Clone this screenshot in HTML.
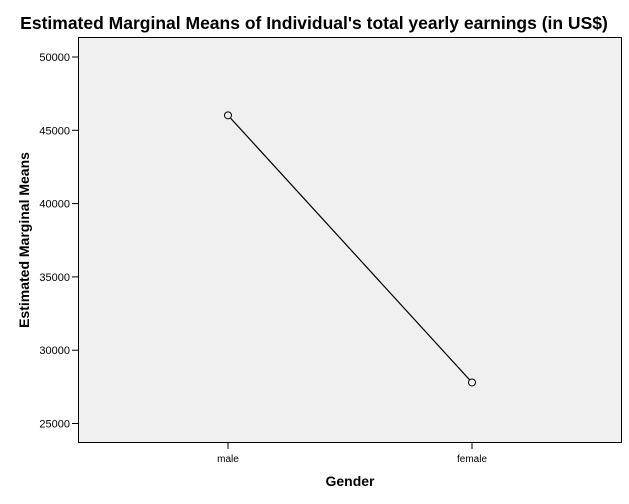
<!DOCTYPE html>
<html><head><meta charset="utf-8"><style>
body{margin:0;background:#fff;}
svg{display:block;font-family:"Liberation Sans",Arial,sans-serif;}
</style></head><body>
<svg id="chart" width="629" height="504">
<text x="314" y="29" font-size="17.5" font-weight="bold" text-anchor="middle">Estimated Marginal Means of Individual's total yearly earnings (in US$)</text>
<rect x="78.5" y="37.5" width="543" height="405" fill="#f0f0f0" stroke="#000" stroke-width="1"/>
<text transform="translate(29,240) rotate(-90)" font-size="14" font-weight="bold" text-anchor="middle">Estimated Marginal Means</text>
<text x="350" y="486" font-size="14" font-weight="bold" text-anchor="middle">Gender</text>
<g id="yaxis"></g><g id="xaxis"></g><g id="series"></g>
</svg>
<script>
const categories=["male","female"];
const meansValues=[46020,27800];
const yTicks=[25000,30000,35000,40000,45000,50000];
const ns="http://www.w3.org/2000/svg";
function y(v){return 423.5-(v-25000)*(366.5/25000);}
function x(i){return 228+i*244;}
function mk(t,a,p){const e=document.createElementNS(ns,t);for(const k in a)e.setAttribute(k,a[k]);p.appendChild(e);return e;}
const ya=document.getElementById('yaxis');
yTicks.forEach(v=>{
 const l=mk('line',{x1:72,x2:78,y1:y(v),y2:y(v),stroke:'#000'},ya);
 
 
 const t=mk('text',{x:70,y:y(v)+4,'font-size':11,'text-anchor':'end'},ya);
 t.textContent=v;
 
 
});
const xa=document.getElementById('xaxis');
categories.forEach((c,i)=>{
 const l=mk('line',{x1:x(i),x2:x(i),y1:443,y2:449,stroke:'#000'},xa);
 
 
 const t=mk('text',{x:x(i),y:462,'font-size':10,'text-anchor':'middle'},xa);
 t.textContent=c;
 
 
});
const s=document.getElementById('series');
const pl=mk('polyline',{points:meansValues.map((v,i)=>x(i)+','+y(v)).join(' '),fill:'none',stroke:'#000','stroke-width':1.2},s);


meansValues.forEach((v,i)=>{
 const c=mk('circle',{cx:x(i),cy:y(v),r:3.5,fill:'#f0f0f0',stroke:'#000','stroke-width':1},s);
 
 
});
</script>
</body></html>
